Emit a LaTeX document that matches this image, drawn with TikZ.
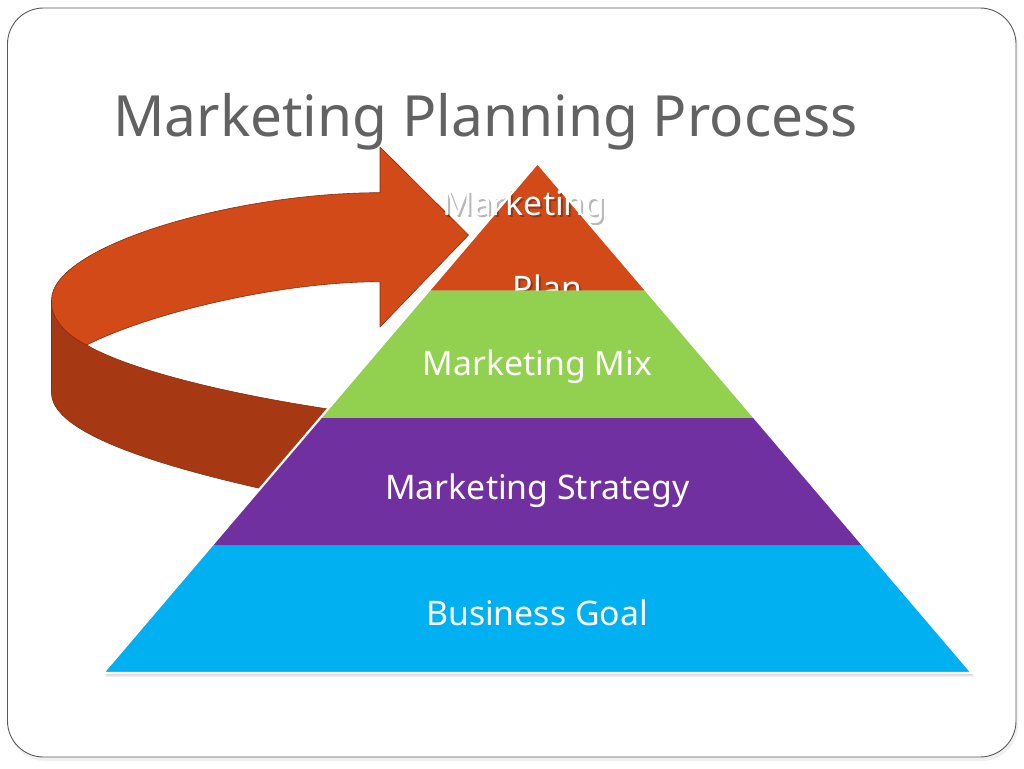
\documentclass[tikz,border=0pt]{standalone}
\usepackage{fontspec}
\newfontfamily\nsans{Noto Sans}
\usetikzlibrary{calc}
\definecolor{arrowtop}{HTML}{D14A18}
\definecolor{arrowside}{HTML}{A63913}
\definecolor{arrowedge}{HTML}{8A2C0C}
\definecolor{pgreen}{HTML}{92D050}
\definecolor{ppurple}{HTML}{7030A0}
\definecolor{pblue}{HTML}{00B0F0}
\definecolor{titlegray}{HTML}{626262}
\definecolor{framegray}{HTML}{5A5A5A}
\tikzset{
  bandtext/.style={text=white, anchor=base, inner sep=0pt, font=\nsans\fontsize{33.8}{40}\selectfont},
  shadowtext/.style={text=black, anchor=base, inner sep=0pt, font=\nsans\fontsize{33.8}{40}\selectfont, text opacity=0.28},
  arrowpart/.style={draw=arrowedge, line width=0.6pt, line join=round},
}
\begin{document}
\begin{tikzpicture}[x=1pt,y=-1pt]
\useasboundingbox (0,0) rectangle (1024,768);
% frame
\fill[black,opacity=0.06,rounded corners=36pt] (9,11) rectangle (1018,761);
\draw[framegray, line width=0.9pt, fill=white, rounded corners=36pt] (7.5,8) rectangle (1016,757);
% arrow side (front, dark)
\draw[arrowpart, fill=arrowside]
  (51.5,303) -- (51.5,393)
  .. controls (51.5,440) and (200,478) .. (340,505)
  -- (430,422)
  .. controls (240,402) and (125,368) .. (86.7,345)
  .. controls (70,337) and (53,322) .. (51.5,303) -- cycle;
% arrow top face with head
\draw[arrowpart, fill=arrowtop]
  (380,192.7) .. controls (232,192.7) and (51.5,246.5) .. (51.5,300)
  -- (51.5,305) .. controls (53,322) and (70,337) .. (86.7,345)
  .. controls (150,313) and (280,281.7) .. (380,281.7)
  -- (380,327) -- (468.5,235) -- (380,147) -- cycle;
% pyramid
\coordinate (A) at (537.5,163);
\coordinate (BL) at (103,673);
\coordinate (BR) at (972,673);
\coordinate (L1) at ($(A)!0.25!(BL)$);
\coordinate (R1) at ($(A)!0.25!(BR)$);
\coordinate (L2) at ($(A)!0.5!(BL)$);
\coordinate (R2) at ($(A)!0.5!(BR)$);
\coordinate (L3) at ($(A)!0.75!(BL)$);
\coordinate (R3) at ($(A)!0.75!(BR)$);
% pyramid shadow
\foreach \s in {1,2,3,4}{
  \fill[black, opacity=0.05] ([shift={(0.6*\s,1.0*\s)}]A) -- ([shift={(0.6*\s,1.0*\s)}]BR) -- ([shift={(0.6*\s,1.0*\s)}]BL) -- cycle;
}
\fill[arrowtop] (A) -- (R1) -- (L1) -- cycle;
% Marketing Plan texts (with shadow)
\node[shadowtext] (sh1) at (526,217) {Marketing};
\node[shadowtext] (sh2) at (549.5,302) {Plan};
\node[bandtext] (tplan1) at (524,215) {Marketing};
\node[bandtext] (tplan2) at (547.5,300) {Plan};
\fill[pgreen] (L1) -- (R1) -- (R2) -- (L2) -- cycle;
\fill[ppurple] (L2) -- (R2) -- (R3) -- (L3) -- cycle;
\fill[pblue] (L3) -- (R3) -- (BR) -- (BL) -- cycle;
\draw[white, line width=2.2pt, line join=miter] (A) -- (BR) -- (BL) -- cycle;
\node[bandtext] (tmix) at (537.5,375.5) {Marketing Mix};
\node[bandtext] (tstrat) at (537.5,499.5) {Marketing Strategy};
\node[bandtext] (tgoal) at (537,625.7) {Business Goal};
% title
\node[anchor=base west, inner sep=0pt, text=titlegray, font=\nsans\fontsize{56.8}{66}\selectfont] (title) at (113,136) {Marketing Planning Process};
\end{tikzpicture}
\end{document}
